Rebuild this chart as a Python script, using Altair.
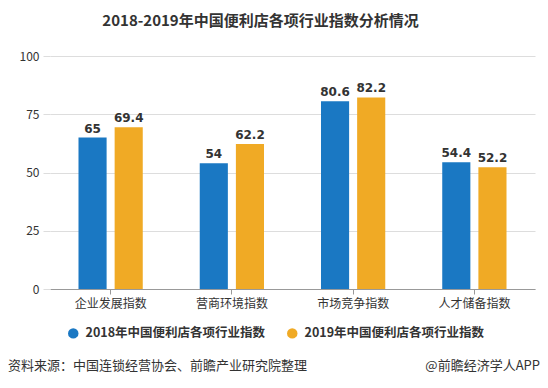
import altair as alt
import pandas as pd

categories = ["企业发展指数", "营商环境指数", "市场竞争指数", "人才储备指数"]
series = ["2018年中国便利店各项行业指数", "2019年中国便利店各项行业指数"]
v2018 = [65, 54, 80.6, 54.4]
v2019 = [69.4, 62.2, 82.2, 52.2]
y_ticks = [0, 25, 50, 75, 100]
colors = ["#1a78c3", "#f0aa25"]
title_text = "2018-2019年中国便利店各项行业指数分析情况"
source_text = "资料来源：中国连锁经营协会、前瞻产业研究院整理"
credit_text = "@前瞻经济学人APP"

rows = []
for c, a, b in zip(categories, v2018, v2019):
    rows.append({"cat": c, "series": series[0], "value": a, "label": f"{a:g}"})
    rows.append({"cat": c, "series": series[1], "value": b, "label": f"{b:g}"})
df = pd.DataFrame(rows)

FONT = "Noto Sans CJK SC"

x = alt.X("cat:N", sort=categories, title=None,
          scale=alt.Scale(paddingInner=0.47, paddingOuter=0.235),
          axis=alt.Axis(labelAngle=0, labelFontSize=12, labelColor="#333", labelFont=FONT,
                        domainColor="#999", tickColor="#999", tickSize=5, bandPosition=0.5,
                        labelPadding=4, grid=False))
xo = alt.XOffset("series:N", sort=series, scale=alt.Scale(paddingInner=0.222, paddingOuter=0))
y = alt.Y("value:Q", title=None, scale=alt.Scale(domain=[0, 100], nice=False),
          axis=alt.Axis(values=y_ticks, labelFontSize=12, labelColor="#333", labelFont=FONT,
                        domain=False, tickColor="#ddd", tickSize=7, gridColor="#ddd",
                        labelPadding=4))

bars = alt.Chart(df).mark_bar().encode(
    x=x, xOffset=xo, y=y,
    color=alt.Color("series:N", sort=series, scale=alt.Scale(domain=series, range=colors),
                    legend=alt.Legend(title=None, orient="none", legendX=17, legendY=271,
                                      direction="horizontal", symbolType="circle",
                                      symbolSize=110, symbolStrokeWidth=0,
                                      labelFontSize=12.5, labelFontWeight="bold",
                                      labelColor="#333", labelFont=FONT, labelLimit=400,
                                      labelOffset=6, columnPadding=20, symbolOffset=0)),
)

labels = alt.Chart(df).mark_text(dy=-9, fontSize=12, fontWeight="bold", color="#333",
                                 font="DejaVu Sans").encode(
    x=alt.X("cat:N", sort=categories), xOffset=alt.XOffset("series:N", sort=series),
    y="value:Q", text="label:N")

src = alt.Chart(pd.DataFrame({"t": [source_text]})).mark_text(
    align="left", baseline="middle", fontSize=13, color="#333", font=FONT).encode(
    x=alt.value(-42), y=alt.value(310), text="t:N")
cred = alt.Chart(pd.DataFrame({"t": [credit_text]})).mark_text(
    align="right", baseline="middle", fontSize=13, color="#333", font=FONT).encode(
    x=alt.value(490), y=alt.value(310), text="t:N")

chart = alt.layer(bars, labels, src, cred).properties(
    width=485, height=233,
    title=alt.Title(title_text, fontSize=15, fontWeight="bold", color="#333", font=FONT,
                    anchor="middle", frame="group", offset=21, dx=-32),
    autosize=alt.AutoSizeParams(type="none"),
    padding={"left": 42, "top": 48, "right": 5, "bottom": 91},
).configure_view(stroke=None).configure_axis(labelFont=FONT)

chart.save("out.html", embed_options={"renderer": "svg", "actions": False})
